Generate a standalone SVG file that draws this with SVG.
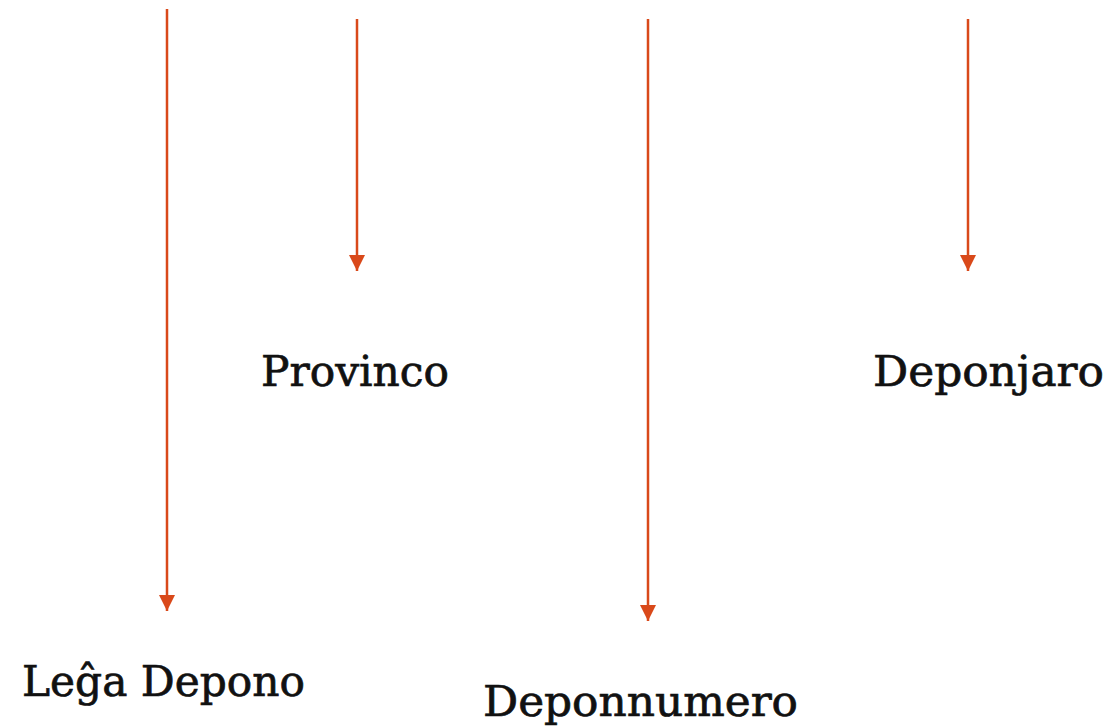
<svg xmlns="http://www.w3.org/2000/svg" width="1112" height="727" viewBox="0 0 1112 727">
<style>
.lbl{font-family:"DejaVu Serif","Liberation Serif",serif;font-size:43px;fill:#111;stroke:#111;stroke-width:0.7px;}
.ln{stroke:#D9491A;stroke-width:2.5;fill:none;}
</style>
<defs>
<marker id="ah" markerUnits="userSpaceOnUse" markerWidth="16" markerHeight="17" refX="16" refY="8" orient="auto" viewBox="0 0 16 16">
<path d="M0,0 L16,8 L0,16 Z" fill="#D9491A"/>
</marker>
</defs>
<rect width="1112" height="727" fill="#fff"/>
<g id="connectors">
<line class="ln" x1="167" y1="9" x2="167" y2="611" marker-end="url(#ah)"/>
<line class="ln" x1="357" y1="19" x2="357" y2="271" marker-end="url(#ah)"/>
<line class="ln" x1="648" y1="19" x2="648" y2="621" marker-end="url(#ah)"/>
<line class="ln" x1="968" y1="19" x2="968" y2="271" marker-end="url(#ah)"/>
</g>
<g id="node-lega-depono"><text class="lbl" x="22" y="696" textLength="283" lengthAdjust="spacingAndGlyphs">Leĝa Depono</text></g>
<g id="node-provinco"><text class="lbl" x="261" y="386" textLength="188" lengthAdjust="spacingAndGlyphs">Provinco</text></g>
<g id="node-deponnumero"><text class="lbl" x="483" y="716" textLength="315" lengthAdjust="spacingAndGlyphs">Deponnumero</text></g>
<g id="node-deponjaro"><text class="lbl" x="873" y="386" textLength="231" lengthAdjust="spacingAndGlyphs">Deponjaro</text></g>
</svg>
